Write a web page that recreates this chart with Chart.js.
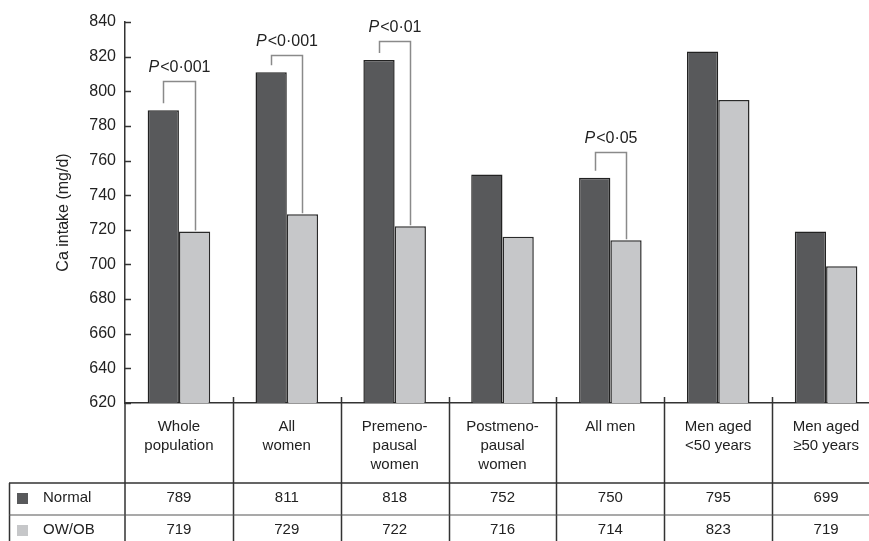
<!DOCTYPE html>
<html>
<head>
<meta charset="utf-8">
<script src="https://cdn.jsdelivr.net/npm/chart.js@4.4.1/dist/chart.umd.min.js"></script>
<style>
  html, body { margin: 0; padding: 0; background: #fff; overflow: hidden; }
  #wrap { width: 880px; height: 541px; }
</style>
</head>
<body>
<div id="wrap"><canvas id="chart" width="880" height="541"></canvas></div>
<script>
const categories = [
  ['Whole', 'population'],
  ['All', 'women'],
  ['Premeno-', 'pausal', 'women'],
  ['Postmeno-', 'pausal', 'women'],
  ['All men'],
  ['Men aged', '<50 years'],
  ['Men aged', '\u226550 years']
]
// bar heights (mg/d)
const normal = [789, 811, 818, 752, 750, 823, 719]
const owob = [719, 729, 722, 716, 714, 795, 699]
// numbers printed in the table rows
const tableNormal = ['789', '811', '818', '752', '750', '795', '699']
const tableOwob = ['719', '729', '722', '716', '714', '823', '719']
const seriesNames = ['Normal', 'OW/OB']
// significance brackets: label and bracket height (mg/d)
const pText = ['<0\u00b7001', '<0\u00b7001', '<0\u00b701', null, '<0\u00b705', null, null]
const pBracket = [806, 821, 829, null, 765, null, null]

const darkFill = '#58595b'
const lightFill = '#c6c7c9'
const lineCol = '#333'
const textCol = '#222'
const FONT = '"Liberation Sans", Arial, sans-serif'

const tablePlugin = {
  id: 'tablePlugin',
  afterDraw(chart) {
    const ctx = chart.ctx
    const x = chart.scales.x
    const y = chart.scales.y
    const n = categories.length
    const w = (x.right - x.left) / n
    const H = chart.height

    ctx.save()
    ctx.strokeStyle = lineCol
    ctx.lineWidth = 1.5

    // inward tick marks on the value axis
    y.ticks.forEach(t => {
      const py = Math.round(y.getPixelForValue(t.value)) + 0.5
      ctx.beginPath()
      ctx.moveTo(y.right, py)
      ctx.lineTo(y.right + 6, py)
      ctx.stroke()
    })

    // column separators
    ctx.beginPath()
    ctx.moveTo(x.left, x.top)
    ctx.lineTo(x.left, H)
    for (let i = 1; i <= n; i++) {
      const sx = Math.round(x.left + i * w) + 0.5
      ctx.moveTo(sx, x.top - 6)
      ctx.lineTo(sx, H)
    }
    ctx.stroke()

    // table rows
    const rowTop = x.top + 80
    const rowMid = rowTop + 32
    ctx.beginPath()
    ctx.moveTo(9, rowTop)
    ctx.lineTo(x.right, rowTop)
    ctx.moveTo(9.5, rowTop)
    ctx.lineTo(9.5, H)
    ctx.stroke()
    ctx.strokeStyle = '#555'
    ctx.lineWidth = 1.2
    ctx.beginPath()
    ctx.moveTo(9, rowMid)
    ctx.lineTo(x.right, rowMid)
    ctx.stroke()

    // category labels and table values
    ctx.fillStyle = textCol
    ctx.font = '15px ' + FONT
    ctx.textAlign = 'center'
    ctx.textBaseline = 'middle'
    categories.forEach((lines, i) => {
      const cx = x.getPixelForValue(i)
      lines.forEach((s, k) => ctx.fillText(s, cx, x.top + 24 + k * 19))
      ctx.fillText(tableNormal[i], cx, rowTop + 15)
      ctx.fillText(tableOwob[i], cx, rowMid + 15)
    })

    // row legend
    ctx.textAlign = 'left'
    ctx.fillStyle = darkFill
    ctx.fillRect(17, rowTop + 10, 11, 11)
    ctx.fillStyle = lightFill
    ctx.fillRect(17, rowMid + 10, 11, 11)
    ctx.fillStyle = textCol
    ctx.fillText(seriesNames[0], 43, rowTop + 15)
    ctx.fillText(seriesNames[1], 43, rowMid + 15)

    // significance brackets
    const m0 = chart.getDatasetMeta(0).data
    const m1 = chart.getDatasetMeta(1).data
    pBracket.forEach((v, i) => {
      if (v === null) return
      const top = Math.round(y.getPixelForValue(v)) + 0.5
      const lx = Math.round(m0[i].x) + 0.5
      const rx = Math.round(m1[i].x) + 0.5
      ctx.strokeStyle = '#8a8a8a'
      ctx.lineWidth = 1.5
      ctx.beginPath()
      ctx.moveTo(lx, m0[i].y - 7)
      ctx.lineTo(lx, top)
      ctx.lineTo(rx, top)
      ctx.lineTo(rx, m1[i].y - 1)
      ctx.stroke()

      ctx.fillStyle = textCol
      ctx.font = 'italic 16px ' + FONT
      const wP = ctx.measureText('P').width
      ctx.font = '16px ' + FONT
      const wR = ctx.measureText(pText[i]).width
      const sx = (lx + rx) / 2 - (wP + wR + 1) / 2
      ctx.font = 'italic 16px ' + FONT
      ctx.fillText('P', sx, top - 14)
      ctx.font = '16px ' + FONT
      ctx.fillText(pText[i], sx + wP + 1, top - 14)
    })
    ctx.restore()
  }
}

new Chart(document.getElementById('chart'), {
  type: 'bar',
  data: {
    labels: categories,
    datasets: [{
      label: seriesNames[0],
      data: normal,
      backgroundColor: darkFill,
      borderColor: '#222',
      borderWidth: 1.5
    }, {
      label: seriesNames[1],
      data: owob,
      backgroundColor: lightFill,
      borderColor: '#2a2a2a',
      borderWidth: 1.5
    }]
  },
  options: {
    responsive: false,
    animation: false,
    layout: { padding: { top: 22, left: 0, right: 0, bottom: 0 } },
    datasets: {
      bar: { categoryPercentage: 0.58, barPercentage: 1 }
    },
    plugins: {
      legend: { display: false },
      tooltip: { enabled: false }
    },
    scales: {
      x: {
        ticks: { display: false },
        grid: { display: false, drawTicks: false },
        border: { display: true, color: lineCol, width: 1.5 },
        afterFit(scale) { scale.height = 138 }
      },
      y: {
        min: 620,
        max: 840,
        ticks: {
          stepSize: 20,
          padding: 9,
          color: textCol,
          font: { family: FONT, size: 16 }
        },
        grid: { display: false, drawTicks: false },
        border: { display: true, color: lineCol, width: 1.5 },
        title: {
          display: true,
          text: 'Ca intake (mg/d)',
          color: textCol,
          font: { family: FONT, size: 16 },
          padding: { top: 54, bottom: 0 }
        },
        afterFit(scale) { scale.width = 125 }
      }
    }
  },
  plugins: [tablePlugin]
})
</script>
</body>
</html>
